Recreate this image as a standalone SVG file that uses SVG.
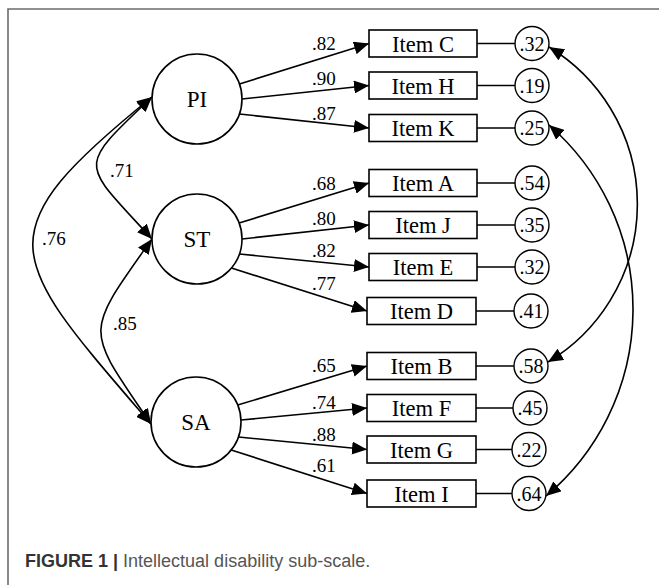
<svg xmlns="http://www.w3.org/2000/svg" width="659" height="585" viewBox="0 0 659 585">
<style>
.lat{fill:#fff;stroke:#000;stroke-width:1.6}
.box{fill:#fff;stroke:#000;stroke-width:1.6}
.err{fill:#fff;stroke:#000;stroke-width:1.4}
.ln{fill:none;stroke:#000;stroke-width:1.6}
.t{font-family:"Liberation Serif","Times New Roman",serif;fill:#000}
.tl{font-size:23px;text-anchor:middle}
.ti{font-size:22.5px;text-anchor:middle}
.te{font-size:20px;text-anchor:middle}
.tw{font-size:19px}
.cap{font-family:"Liberation Sans",Arial,sans-serif;font-size:18px;fill:#555}
</style>
<defs>
<marker id="ah" viewBox="0 0 15 13" refX="15" refY="6.5" markerWidth="15" markerHeight="13" markerUnits="userSpaceOnUse" orient="auto-start-reverse">
<path d="M0,0 L15,6.5 L0,13 z" fill="#000"/>
</marker>
</defs>
<g id="frame" fill="none" stroke="#6b6b6b" stroke-width="1.6">
<path d="M8,585 L8,9 L659,9"/>
</g>
<g id="connectors">
<path class="ln" d="M239.4,84 L369,43.5" marker-end="url(#ah)"/>
<path class="ln" d="M242,99 L369,85.5" marker-end="url(#ah)"/>
<path class="ln" d="M239.4,114 L369,128" marker-end="url(#ah)"/>
<path class="ln" d="M239.1,223 L369,183" marker-end="url(#ah)"/>
<path class="ln" d="M242,239 L369,225" marker-end="url(#ah)"/>
<path class="ln" d="M239.4,254 L369,267" marker-end="url(#ah)"/>
<path class="ln" d="M231.4,268 L367,311" marker-end="url(#ah)"/>
<path class="ln" d="M237.7,405 L367,366" marker-end="url(#ah)"/>
<path class="ln" d="M241,420 L367,408" marker-end="url(#ah)"/>
<path class="ln" d="M238.4,437 L367,449.5" marker-end="url(#ah)"/>
<path class="ln" d="M231.2,450 L367,493.5" marker-end="url(#ah)"/>
<path class="ln" d="M477,43.5 L515,43.5 M477,85.5 L515,85.5 M477,128 L515,128 M477,183 L515,183 M477,225 L515,225 M477,267 L515,267 M476,311 L514,311 M476,366 L514,366 M476,408 L513,408 M476,449.5 L512,449.5 M476,493.5 L512,493.5"/>
<path class="ln" d="M152,97 C75,170 81,161 152,239" marker-start="url(#ah)" marker-end="url(#ah)"/>
<path class="ln" d="M152,97 C-20,236 7,256 151,424" marker-start="url(#ah)" marker-end="url(#ah)"/>
<path class="ln" d="M152,239 C83,336 85,327 151,424" marker-start="url(#ah)" marker-end="url(#ah)"/>
<path class="ln" d="M549,47 A184,184 0 0 1 548,362" marker-start="url(#ah)" marker-end="url(#ah)"/>
<path class="ln" d="M549,125 A244,244 0 0 1 546,496" marker-start="url(#ah)" marker-end="url(#ah)"/>
</g>
<g id="connector-labels" class="t tw">
<text x="312" y="50">.82</text>
<text x="312" y="85">.90</text>
<text x="312" y="120">.87</text>
<text x="312" y="190">.68</text>
<text x="312" y="225">.80</text>
<text x="312" y="257">.82</text>
<text x="312" y="290">.77</text>
<text x="312" y="372">.65</text>
<text x="312" y="409">.74</text>
<text x="312" y="441">.88</text>
<text x="312" y="472">.61</text>
<text x="110" y="177">.71</text>
<text x="42" y="245">.76</text>
<text x="113" y="330">.85</text>
</g>
<g id="PI"><circle class="lat" cx="197" cy="99" r="45"/><text class="t tl" x="197" y="107">PI</text></g>
<g id="ST"><circle class="lat" cx="197" cy="239" r="45"/><text class="t tl" x="197" y="247">ST</text></g>
<g id="SA"><circle class="lat" cx="196" cy="422" r="45"/><text class="t tl" x="196" y="430">SA</text></g>
<g id="itemC"><rect class="box" x="369" y="30" width="108" height="27"/><text class="t ti" x="423" y="51.5">Item C</text></g>
<g id="itemH"><rect class="box" x="369" y="72" width="108" height="27"/><text class="t ti" x="423" y="93.5">Item H</text></g>
<g id="itemK"><rect class="box" x="369" y="114.5" width="108" height="27"/><text class="t ti" x="423" y="136">Item K</text></g>
<g id="itemA"><rect class="box" x="369" y="169.5" width="108" height="27"/><text class="t ti" x="423" y="191">Item A</text></g>
<g id="itemJ"><rect class="box" x="369" y="211.5" width="108" height="27"/><text class="t ti" x="423" y="233">Item J</text></g>
<g id="itemE"><rect class="box" x="369" y="253.5" width="108" height="27"/><text class="t ti" x="423" y="275">Item E</text></g>
<g id="itemD"><rect class="box" x="367" y="297.5" width="109" height="27"/><text class="t ti" x="421.5" y="319">Item D</text></g>
<g id="itemB"><rect class="box" x="367" y="352.5" width="109" height="27"/><text class="t ti" x="421.5" y="374">Item B</text></g>
<g id="itemF"><rect class="box" x="367" y="394.5" width="109" height="27"/><text class="t ti" x="421.5" y="416">Item F</text></g>
<g id="itemG"><rect class="box" x="367" y="436" width="109" height="27"/><text class="t ti" x="421.5" y="457.5">Item G</text></g>
<g id="itemI"><rect class="box" x="367" y="480" width="109" height="27"/><text class="t ti" x="421.5" y="501.5">Item I</text></g>
<g id="eC"><circle class="err" cx="532" cy="43.5" r="17"/><text class="t te" x="532" y="50.5">.32</text></g>
<g id="eH"><circle class="err" cx="532" cy="85.5" r="17"/><text class="t te" x="532" y="92.5">.19</text></g>
<g id="eK"><circle class="err" cx="532" cy="128" r="17"/><text class="t te" x="532" y="135">.25</text></g>
<g id="eA"><circle class="err" cx="532" cy="183" r="17"/><text class="t te" x="532" y="190">.54</text></g>
<g id="eJ"><circle class="err" cx="532" cy="225" r="17"/><text class="t te" x="532" y="232">.35</text></g>
<g id="eE"><circle class="err" cx="532" cy="267" r="17"/><text class="t te" x="532" y="274">.32</text></g>
<g id="eD"><circle class="err" cx="531" cy="311" r="17"/><text class="t te" x="531" y="318">.41</text></g>
<g id="eB"><circle class="err" cx="531" cy="366" r="17"/><text class="t te" x="531" y="373">.58</text></g>
<g id="eF"><circle class="err" cx="530" cy="408" r="17"/><text class="t te" x="530" y="415">.45</text></g>
<g id="eG"><circle class="err" cx="529" cy="449.5" r="17"/><text class="t te" x="529" y="456.5">.22</text></g>
<g id="eI"><circle class="err" cx="529" cy="493.5" r="17"/><text class="t te" x="529" y="500.5">.64</text></g>
<g id="caption"><text class="cap" x="25" y="567"><tspan font-weight="bold" fill="#333">FIGURE 1 |</tspan> Intellectual disability sub-scale.</text></g>
</svg>
